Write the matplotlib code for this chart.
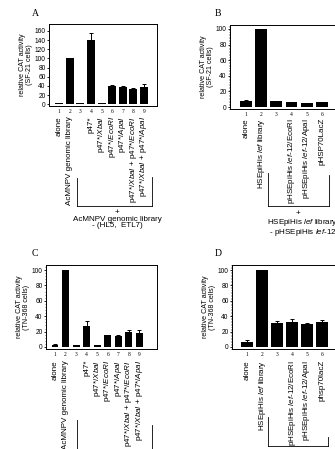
import numpy as np
import matplotlib.pyplot as plt
from matplotlib.lines import Line2D
from matplotlib.transforms import blended_transform_factory
from matplotlib.ticker import MultipleLocator

plt.rcParams['font.family'] = ['Liberation Sans', 'DejaVu Sans']
plt.rcParams['mathtext.fontset'] = 'custom'
plt.rcParams['mathtext.rm'] = 'Liberation Sans'
plt.rcParams['mathtext.it'] = 'Liberation Sans:italic'

W, H = 335, 449

# ---- data ----
a_vals = [2, 100, 2, 140, 2, 39, 37, 33, 37]
a_err = [0.8, 0, 0.8, 16, 0.8, 2, 2, 2, 6]
c_vals = [3, 100, 2, 27, 2, 15, 14, 20, 18]
c_err = [1.5, 0, 0.8, 7, 0.6, 1, 1, 1.5, 3.5]
ac_labels = [
    "alone",
    "AcMNPV genomic library",
    "",
    "p47*",
    r"p47*/$\mathit{XbaI}$",
    r"p47*/$\mathit{EcoRI}$",
    r"p47*/$\mathit{ApaI}$",
    r"p47*/$\mathit{XbaI}$ + p47*/$\mathit{EcoRI}$",
    r"p47*/$\mathit{XbaI}$ + p47*/$\mathit{ApaI}$",
]

b_vals = [8, 100, 7.5, 6, 5, 6]
b_err = [0.6, 0, 0.5, 0.5, 0.5, 0.5]
d_vals = [7, 100, 31, 32, 30, 32]
d_err = [2, 0, 3, 4, 1.5, 3]
b_labels = [
    "alone",
    r"HSEpiHis $\mathit{lef}$ library",
    "",
    r"pHSEpiHis $\mathit{lef}$-12/EcoRI",
    r"pHSEpiHis $\mathit{lef}$-12/ApaI",
    "pHSP70LacZ",
]
d_labels = b_labels[:5] + ["phsp70lacZ"]


def fx(px):
    return px / W


def fy(py):
    return 1 - py / H


fig = plt.figure(figsize=(W / 100, H / 100), dpi=100)


def panel(l, t, r, b, vals, err, labels, ylim, xlim, width, ylabel, yminor, label_top):
    ax = fig.add_axes([fx(l), fy(b), (r - l) / W, (b - t) / H])
    x = np.arange(1, len(vals) + 1)
    ax.bar(x, vals, width=width, color="black")
    err = np.array(err)
    low = np.zeros_like(err)
    m = err > 0
    ax.errorbar(x[m], np.array(vals)[m], yerr=[low[m], err[m]], fmt="none",
                ecolor="black", elinewidth=0.7, capsize=1.3, capthick=0.7)
    ax.set_xlim(*xlim)
    ax.set_ylim(*ylim)
    ax.set_xticks(x)
    ax.set_xticklabels([str(i) for i in x], fontfamily="Liberation Serif", fontsize=4)
    ax.tick_params(axis="x", length=0, pad=2.5)
    ax.tick_params(axis="y", labelsize=4.8, length=1.8, width=0.6, pad=0.6, direction="out")
    ax.yaxis.set_major_locator(MultipleLocator(20))
    if yminor:
        ax.yaxis.set_minor_locator(MultipleLocator(yminor))
        ax.tick_params(axis="y", which="minor", length=0.9, width=0.4)
    for s in ax.spines.values():
        s.set_linewidth(0.7)
    ax.set_ylabel(ylabel, fontsize=5.1, labelpad=1.5, linespacing=1.0)
    tr = blended_transform_factory(ax.transData, fig.transFigure)
    for xi, lab in zip(x, labels):
        if lab:
            ax.text(xi, fy(label_top), lab, transform=tr, rotation=90,
                    ha="center", va="top", fontsize=5.8)
    return ax


panel(49, 24, 157, 106, a_vals, a_err, ac_labels, (-4, 175), (0.03, 10.23), 0.75,
      "relative CAT activity\n(SF-21 cells)", None, 116)
panel(230, 25, 340, 109, b_vals, b_err, b_labels, (-2.5, 105), (-0.05, 7.2), 0.78,
      "relative CAT activity\n(SF-21 cells)", 2, 118)
panel(46, 265, 157, 349, c_vals, c_err, ac_labels, (-2.6, 106.5), (0.14, 10.69), 0.65,
      "relative CAT activity\n(TN-368 cells)", 4, 360)
panel(232, 265, 340, 349, d_vals, d_err, d_labels, (-2.6, 106.5), (0.0, 7.2), 0.75,
      "relative CAT activity\n(TN-368 cells)", 2, 360)

# panel letters
for ch, px, py in [("A", 35, 14), ("B", 218, 14), ("C", 35, 253), ("D", 218, 254)]:
    fig.text(fx(px), fy(py), ch, fontfamily="Liberation Serif", fontsize=7,
             ha="center", va="center")


def bracket(xl, xr, ytop_l, ytop_r, ybot):
    kw = dict(color="black", linewidth=0.6)
    fig.add_artist(Line2D([fx(xl), fx(xl)], [fy(ytop_l), fy(ybot)], **kw))
    fig.add_artist(Line2D([fx(xr), fx(xr)], [fy(ytop_r), fy(ybot)], **kw))
    fig.add_artist(Line2D([fx(xl), fx(xr)], [fy(ybot), fy(ybot)], **kw))


bracket(77, 152, 178, 177, 206)
bracket(268, 329, 173, 175, 206)
bracket(77, 152, 420, 425, 451)
bracket(268, 328, 417, 437, 446)

# captions under the brackets
fig.text(fx(117), fy(209), "+\nAcMNPV genomic library\n- (HL5,  ETL7)", fontsize=5.8,
         ha="center", va="top", multialignment="center", linespacing=0.92)
fig.text(fx(298), fy(213), "+", fontsize=5.8, ha="center", va="center")
fig.text(fx(267), fy(217), "HSEpiHis $\\mathit{lef}$ library\n - pHSEpiHis $\\mathit{lef}$-12",
         fontsize=5.8, ha="left", va="top", multialignment="left", linespacing=0.92)

fig.savefig("out.png", dpi=100)
